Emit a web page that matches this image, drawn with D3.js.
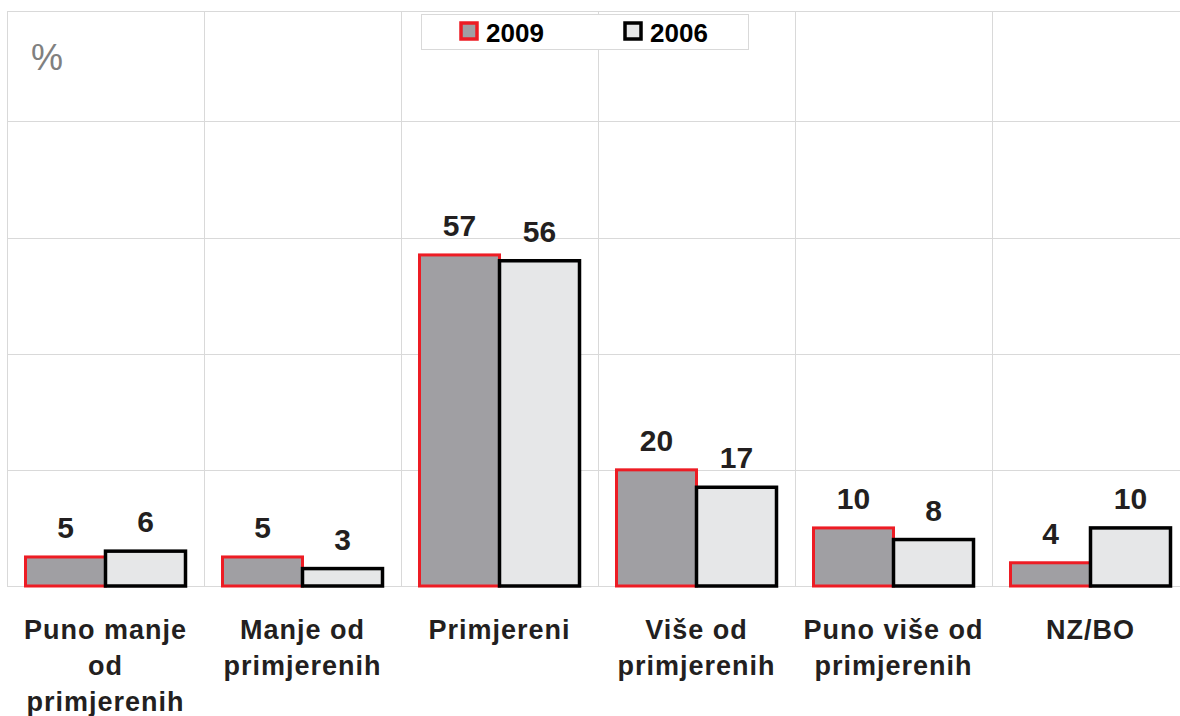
<!DOCTYPE html>
<html lang="hr">
<head>
  <meta charset="UTF-8">
  <title>Primjereni</title>
  <style>
    body { margin: 0; background: #fff; overflow: hidden; }
    text { font-family: "Liberation Sans", Arial, sans-serif; }
    .grid line { stroke: #d9d9d9; stroke-width: 1; shape-rendering: crispEdges; }
    .val { font-size: 30px; font-weight: bold; fill: #231f20; text-anchor: middle; }
    .cat { font-size: 27px; font-weight: bold; fill: #231f20; text-anchor: middle; letter-spacing: 1px; }
    .leg { font-size: 26px; font-weight: bold; fill: #000; }
  </style>
</head>
<body>
  <script src="https://d3js.org/d3.v7.min.js"></script>
  <script>
    // kategorije i vrijednosti (%)
    const categories = ["Puno manje od primjerenih", "Manje od primjerenih", "Primjereni",
                        "Više od primjerenih", "Puno više od primjerenih", "NZ/BO"];
    const catLines = [["Puno manje", "od", "primjerenih"], ["Manje od", "primjerenih"], ["Primjereni"],
                      ["Više od", "primjerenih"], ["Puno više od", "primjerenih"], ["NZ/BO"]];
    const years = ["2009", "2006"];
    const values2009 = [5, 5, 57, 20, 10, 4];
    const values2006 = [6, 3, 56, 17, 8, 10];
    const yTicks = [0, 20, 40, 60, 80];

    const width = 1180, height = 716;
    const plotLeft = 7, plotTop = 11, plotBottom = 586, band = 197;

    const svg = d3.select("body").append("svg").attr("width", width).attr("height", height);

    const x = d3.scaleBand().domain(categories).range([plotLeft, plotLeft + band * categories.length]);
    const xs = d3.scaleBand().domain(years).range([18.5, band - 18.5]);
    const y = d3.scaleLinear().domain([0, 99]).range([plotBottom, plotTop]);

    const styles = {
      "2009": {fill: "#a09fa3", stroke: "#ed1c24"},
      "2006": {fill: "#e6e7e8", stroke: "#000"}
    };

    // mreža
    const grid = svg.append("g").attr("class", "grid");
    grid.selectAll("line.h").data(yTicks).enter().append("line")
      .attr("x1", plotLeft).attr("x2", width).attr("y1", d => Math.round(y(d)) + 0.5).attr("y2", d => Math.round(y(d)) + 0.5);
    grid.append("line").attr("x1", plotLeft).attr("x2", width).attr("y1", plotTop + 0.5).attr("y2", plotTop + 0.5);
    grid.selectAll("line.v").data(categories).enter().append("line")
      .attr("x1", d => x(d) + 0.5).attr("x2", d => x(d) + 0.5).attr("y1", plotTop).attr("y2", plotBottom);

    svg.append("text").attr("x", 31).attr("y", 70)
      .attr("font-size", 36).attr("fill", "#808080").text("%");

    const data = categories.map((c, i) => ({cat: c, vals: [
      {year: "2009", v: values2009[i]}, {year: "2006", v: values2006[i]}
    ]}));

    const groups = svg.selectAll("g.cat").data(data).enter().append("g")
      .attr("transform", d => `translate(${x(d.cat)},0)`);

    groups.selectAll("rect").data(d => d.vals).enter().append("rect")
      .attr("x", d => xs(d.year))
      .attr("width", xs.bandwidth())
      .attr("y", d => y(d.v))
      .attr("height", d => plotBottom - y(d.v))
      .attr("fill", d => styles[d.year].fill)
      .attr("stroke", d => styles[d.year].stroke)
      .attr("stroke-width", d => d.year === "2009" ? 3 : 3.5);

    groups.selectAll("text.val").data(d => d.vals).enter().append("text")
      .attr("class", "val")
      .attr("x", d => xs(d.year) + xs.bandwidth() / 2)
      .attr("y", d => y(d.v) - 19)
      .text(d => d.v);

    // oznake kategorija
    svg.selectAll("text.cat").data(catLines).enter().append("text")
      .attr("class", "cat")
      .attr("x", (d, i) => x(categories[i]) + band / 2)
      .attr("y", 639)
      .selectAll("tspan").data(d => d).enter().append("tspan")
      .attr("x", function() { return this.parentNode.getAttribute("x"); })
      .attr("dy", (d, i) => i === 0 ? 0 : 36)
      .text(d => d);

    // legenda
    const leg = svg.append("g");
    leg.append("rect").attr("x", 421.5).attr("y", 14.5).attr("width", 327).attr("height", 35)
      .attr("fill", "#fff").attr("stroke", "#d9d9d9");
    const legX = {"2009": 461, "2006": 625};
    years.forEach(yr => {
      leg.append("rect").attr("x", legX[yr]).attr("y", 23).attr("width", 16).attr("height", 16)
        .attr("fill", styles[yr].fill).attr("stroke", styles[yr].stroke).attr("stroke-width", 3.5);
      leg.append("text").attr("class", "leg").attr("x", legX[yr] + 25).attr("y", 42).text(yr);
    });
  </script>
</body>
</html>
